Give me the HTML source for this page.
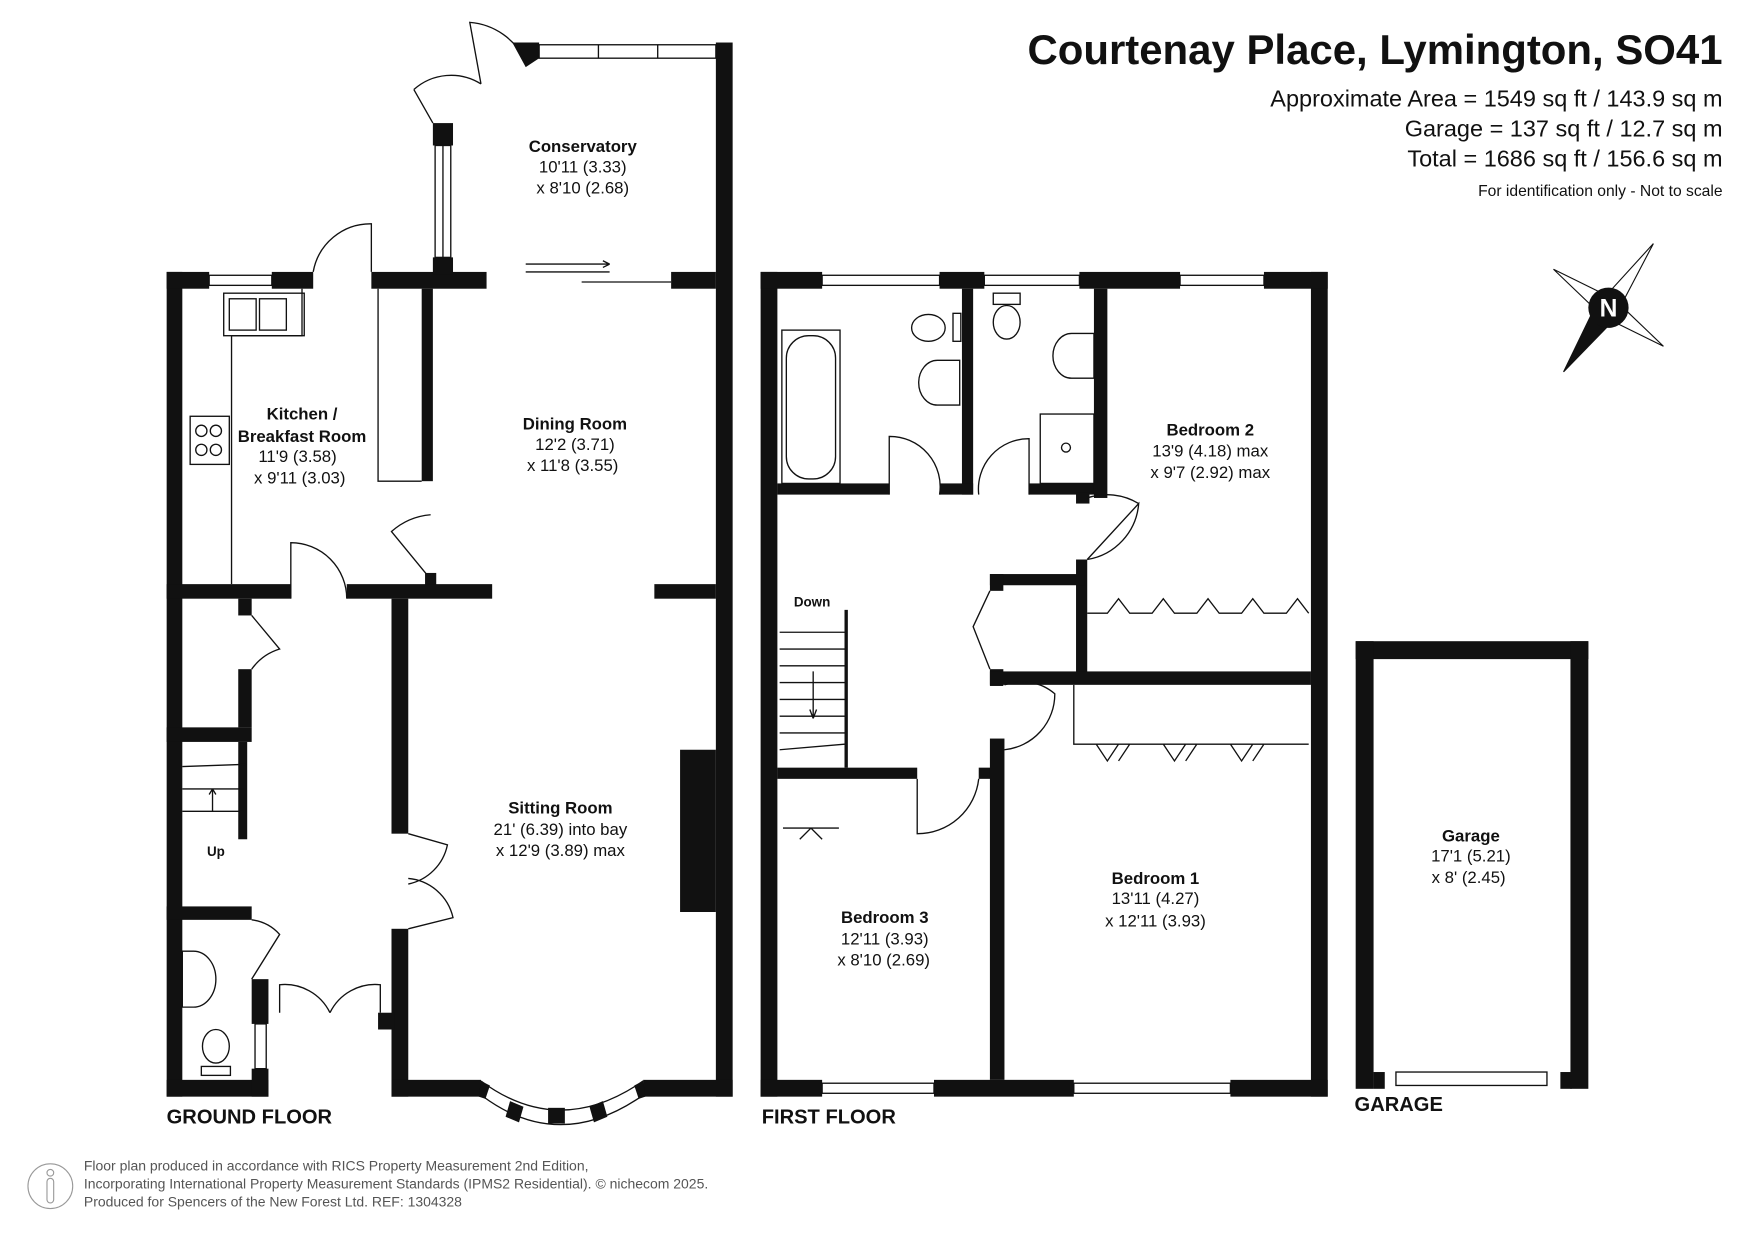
<!DOCTYPE html>
<html><head><meta charset="utf-8"><style>
html,body{margin:0;padding:0;background:#fff}
svg{display:block}
text{font-family:"Liberation Sans",sans-serif;fill:#111}
.t{font-size:15px;text-anchor:middle}
.b{font-weight:bold}
</style></head><body>
<svg width="1755" height="1241" viewBox="0 0 1569 1109" preserveAspectRatio="none" xmlns="http://www.w3.org/2000/svg">
<rect width="1569" height="1109" fill="#fff"/>
<g fill="#111">
<rect x="149" y="243" width="14" height="737"/>
<rect x="149" y="965" width="91" height="15"/>
<rect x="149" y="243" width="38" height="15"/>
<rect x="243" y="243" width="37" height="15"/>
<rect x="332" y="243" width="103" height="15"/>
<rect x="387" y="110" width="18" height="20"/>
<rect x="387" y="230" width="18" height="15"/>
<rect x="600" y="243" width="40" height="15"/>
<rect x="640" y="38" width="15" height="942"/>
<polygon points="458,38 482,38 482,52 470,60"/>
<rect x="377" y="258" width="10" height="172"/>
<rect x="380" y="512" width="10" height="12"/>
<rect x="149" y="522" width="111" height="13"/>
<rect x="310" y="522" width="130" height="13"/>
<rect x="585" y="522" width="55" height="13"/>
<rect x="350" y="535" width="15" height="210"/>
<rect x="350" y="830" width="15" height="150"/>
<rect x="350" y="965" width="80" height="15"/>
<rect x="575" y="965" width="80" height="15"/>
<rect x="213" y="535" width="12" height="15"/>
<rect x="213" y="598" width="12" height="52"/>
<rect x="149" y="650" width="76" height="13"/>
<rect x="213" y="663" width="8" height="87"/>
<rect x="149" y="810" width="76" height="12"/>
<rect x="225" y="875" width="15" height="40"/>
<rect x="225" y="955" width="15" height="25"/>
<rect x="338" y="905" width="15" height="15"/>
<rect x="608" y="670" width="32" height="145"/>
<rect x="680" y="243" width="15" height="737"/>
<rect x="1172" y="243" width="15" height="737"/>
<rect x="680" y="243" width="55" height="15"/>
<rect x="840" y="243" width="40" height="15"/>
<rect x="965" y="243" width="90" height="15"/>
<rect x="1130" y="243" width="57" height="15"/>
<rect x="680" y="965" width="55" height="15"/>
<rect x="835" y="965" width="125" height="15"/>
<rect x="1100" y="965" width="87" height="15"/>
<rect x="860" y="258" width="10" height="184"/>
<rect x="695" y="432" width="100" height="10"/>
<rect x="840" y="432" width="30" height="10"/>
<rect x="920" y="432" width="60" height="10"/>
<rect x="978" y="258" width="12" height="187"/>
<rect x="962" y="440" width="12" height="10"/>
<rect x="962" y="500" width="10" height="110"/>
<rect x="885" y="513" width="85" height="10"/>
<rect x="885" y="513" width="12" height="15"/>
<rect x="885" y="598" width="12" height="15"/>
<rect x="885" y="600" width="287" height="12"/>
<rect x="695" y="686" width="125" height="10"/>
<rect x="875" y="686" width="12" height="10"/>
<rect x="885" y="660" width="13" height="305"/>
<rect x="755" y="545" width="3" height="141"/>
<rect x="1212" y="573" width="208" height="16"/>
<rect x="1212" y="573" width="16" height="400"/>
<rect x="1404" y="573" width="16" height="400"/>
<rect x="1228" y="958" width="10" height="15"/>
<rect x="1395" y="958" width="10" height="15"/>
</g>
<g fill="none" stroke="#111" stroke-width="1.2">
<path d="M430 966 Q500 1018 575 966"/>
<path d="M432 980 Q500 1030 573 980"/>
</g>
<g fill="#111">
<polygon points="430,966 438,970 434,982 428,980"/>
<polygon points="456,984 468,989 464,1003 452,998"/>
<rect x="490" y="990" width="15" height="14"/>
<polygon points="527,989 539,984 543,998 531,1003"/>
<polygon points="567,970 575,966 577,980 571,982"/>
</g>
<g fill="none" stroke="#111" stroke-width="1.2">
<rect x="187" y="246" width="56" height="9"/>
<rect x="482" y="40" width="158" height="12"/><line x1="535" y1="40" x2="535" y2="52"/><line x1="588" y1="40" x2="588" y2="52"/>
<rect x="389" y="130" width="14" height="100"/><line x1="396" y1="130" x2="396" y2="230"/>
<rect x="735" y="246" width="105" height="9"/><rect x="880" y="246" width="85" height="9"/><rect x="1055" y="246" width="75" height="9"/>
<rect x="735" y="968" width="100" height="9"/><rect x="960" y="968" width="140" height="9"/>
<rect x="1248" y="958" width="135" height="12"/>
<rect x="228" y="915" width="10" height="40"/>
<path d="M280 243 A52 52 0 0 1 332 200 L332 243"/>
<path d="M387 110 L370 80 M370 80 A50 50 0 0 1 430 75"/>
<path d="M430 75 L420 20 A60 60 0 0 1 470 55"/>
<path d="M470 243 h75 M520 252 h80 M470 236 h75 l-6 -3 m6 3 l-6 3"/>
<path d="M387 520 L350 475 A60 60 0 0 1 385 460"/>
<path d="M260 535 L260 485 A50 50 0 0 1 310 535"/>
<path d="M225 550 L250 580 A48 48 0 0 0 225 598"/>
<path d="M365 745 L400 755 A45 45 0 0 1 365 790 M365 830 L405 820 A45 45 0 0 0 365 785"/>
<path d="M250 905 L250 880 A45 45 0 0 1 295 905 M340 905 L340 880 A45 45 0 0 0 295 905"/>
<path d="M225 875 L250 835 A40 40 0 0 0 225 822"/>
<path d="M795 442 L795 390 A45 45 0 0 1 840 442"/>
<path d="M875 442 A45 45 0 0 1 920 392 L920 442"/>
<path d="M972 500 L1018 450 A55 55 0 0 1 972 500 M972 445 A55 55 0 0 1 1018 450"/>
<path d="M885 528 L870 560 L885 598"/>
<path d="M898 612 A45 45 0 0 1 943 620 A50 50 0 0 1 898 670"/>
<path d="M820 696 L820 745 A55 55 0 0 0 875 696"/>
<path d="M700 740 L725 740 L715 750 M750 740 L725 740 L735 750" />
<path d="M972 548 L990 548 L1000 535 L1010 548 L1030 548 L1040 535 L1050 548 L1070 548 L1080 535 L1090 548 L1110 548 L1120 535 L1130 548 L1150 548 L1160 535 L1170 548"/>
<path d="M960 612 L960 665 L1170 665 M980 665 L990 680 L1000 665 M1040 665 L1050 680 L1060 665 M1100 665 L1110 680 L1120 665 M1010 665 L1000 680 M1070 665 L1060 680 M1130 665 L1120 680"/>
<path d="M338 258 L338 430 L377 430"/>
<path d="M207 300 L207 522 M207 300 L270 300 L270 258"/>
<path d="M163 685 L220 683 M163 705 h55 M163 725 h55 M190 725 v-20 M190 705 l-3 5 m3 -5 l3 5"/>
<path d="M697 565 h58 M697 580 h58 M697 595 h58 M697 610 h58 M697 625 h58 M697 640 h58 M697 655 h58 M697 670 l58 -5 M727 600 v42 l-3 -8 m3 8 l3 -8"/>
<rect x="200" y="262" width="72" height="38"/><rect x="205" y="267" width="24" height="28"/><rect x="232" y="267" width="24" height="28"/>
<rect x="170" y="372" width="35" height="43"/><circle cx="180" cy="385" r="5"/><circle cx="193" cy="385" r="5"/><circle cx="180" cy="402" r="5"/><circle cx="193" cy="402" r="5"/>
<rect x="699" y="295" width="52" height="137"/><rect x="703" y="300" width="44" height="128" rx="20"/>
<ellipse cx="830" cy="293" rx="15" ry="12"/><rect x="852" y="280" width="7" height="25"/>
<path d="M858 322 h-20 a15 18 0 0 0 0 40 h20 z"/>
<ellipse cx="900" cy="288" rx="12" ry="15"/><rect x="888" y="262" width="24" height="10"/>
<path d="M978 298 h-20 a15 18 0 0 0 0 40 h20 z"/>
<rect x="930" y="370" width="48" height="62"/><circle cx="953" cy="400" r="4"/>
<path d="M163 850 h10 a20 25 0 0 1 0 50 h-10 z"/>
<ellipse cx="193" cy="935" rx="12" ry="15"/><rect x="180" y="953" width="26" height="8"/>
</g>
<g transform="translate(1438,275) rotate(35)">
<polygon points="0,-70 8,-8 0,0 -8,-8" fill="#fff" stroke="#111"/>
<polygon points="0,70 10,8 0,0 -10,8" fill="#111" stroke="#111"/>
<polygon points="-60,0 -8,-8 0,0 -8,8" fill="#fff" stroke="#111"/>
<polygon points="60,0 8,-8 0,0 8,8" fill="#fff" stroke="#111"/>
<circle r="18" fill="#111"/>
<text x="0" y="8" style="fill:#fff;font-size:22px;font-weight:bold" text-anchor="middle" transform="rotate(-35)">N</text>
</g>
<text x="1540" y="57" text-anchor="end" class="b" style="font-size:37.5px">Courtenay Place, Lymington, SO41</text>
<text x="1540" y="95" text-anchor="end" style="font-size:21px">Approximate Area = 1549 sq ft / 143.9 sq m</text>
<text x="1540" y="122" text-anchor="end" style="font-size:21px">Garage = 137 sq ft / 12.7 sq m</text>
<text x="1540" y="149" text-anchor="end" style="font-size:21px">Total = 1686 sq ft / 156.6 sq m</text>
<text x="1540" y="175" text-anchor="end" style="font-size:14px">For identification only - Not to scale</text>
<text class="t b" x="521" y="136">Conservatory</text><text class="t" x="521" y="154">10'11 (3.33)</text><text class="t" x="521" y="173">x 8'10 (2.68)</text>
<text class="t b" x="270" y="375">Kitchen /</text><text class="t b" x="270" y="395">Breakfast Room</text><text class="t" x="266" y="413">11'9 (3.58)</text><text class="t" x="268" y="432">x 9'11 (3.03)</text>
<text class="t b" x="514" y="384">Dining Room</text><text class="t" x="514" y="402">12'2 (3.71)</text><text class="t" x="512" y="421">x 11'8 (3.55)</text>
<text class="t b" x="501" y="727">Sitting Room</text><text class="t" x="501" y="746">21' (6.39) into bay</text><text class="t" x="501" y="765">x 12'9 (3.89) max</text>
<text class="t b" x="193" y="765" style="font-size:12px">Up</text>
<text class="t b" x="726" y="542" style="font-size:12px">Down</text>
<text class="t b" x="1082" y="389">Bedroom 2</text><text class="t" x="1082" y="408">13'9 (4.18) max</text><text class="t" x="1082" y="427">x 9'7 (2.92) max</text>
<text class="t b" x="1033" y="790">Bedroom 1</text><text class="t" x="1033" y="808">13'11 (4.27)</text><text class="t" x="1033" y="828">x 12'11 (3.93)</text>
<text class="t b" x="791" y="825">Bedroom 3</text><text class="t" x="791" y="844">12'11 (3.93)</text><text class="t" x="790" y="863">x 8'10 (2.69)</text>
<text class="t b" x="1315" y="752">Garage</text><text class="t" x="1315" y="770">17'1 (5.21)</text><text class="t" x="1313" y="789">x 8' (2.45)</text>
<text x="149" y="1004" class="b" style="font-size:18px">GROUND FLOOR</text>
<text x="681" y="1004" class="b" style="font-size:18px">FIRST FLOOR</text>
<text x="1211" y="993" class="b" style="font-size:18px">GARAGE</text>
<g style="font-size:12.5px">
<text x="75" y="1046" style="fill:#555">Floor plan produced in accordance with RICS Property Measurement 2nd Edition,</text>
<text x="75" y="1062" style="fill:#555">Incorporating International Property Measurement Standards (IPMS2 Residential).   © nichecom 2025.</text>
<text x="75" y="1078" style="fill:#555">Produced for Spencers of the New Forest Ltd.   REF:  1304328</text>
</g>
<circle cx="45" cy="1060" r="20" fill="none" stroke="#999"/>
<circle cx="45" cy="1048" r="3" fill="none" stroke="#999"/>
<rect x="42" y="1053" width="6" height="22" rx="3" fill="none" stroke="#999"/>
</svg>
</body></html>
